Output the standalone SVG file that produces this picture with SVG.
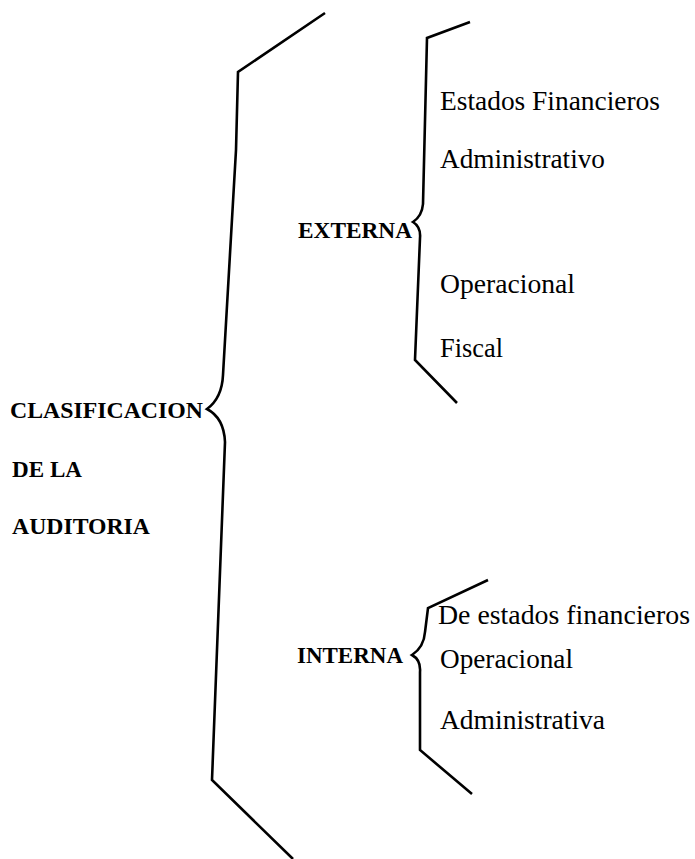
<svg xmlns="http://www.w3.org/2000/svg" width="695" height="859" viewBox="0 0 695 859">
<style>
.br{fill:none;stroke:#000;stroke-width:2.6;stroke-linejoin:miter;stroke-linecap:butt}
.t{font-family:"Liberation Serif","Times New Roman",serif;font-size:27px;fill:#000}
.b{font-family:"Liberation Serif","Times New Roman",serif;font-size:23px;font-weight:bold;fill:#000}
</style>
<rect width="695" height="859" fill="#fff"/>
<g id="connectors">
<path class="br" d="M325,13 L238,72 L236,150 L223,375 Q222,398 207,409 Q224,418 225,442 L212,780 L293,859"/>
<path class="br" d="M470,22 L427,38 L423,204 Q422,216 413,222 Q421,227 420,238 L415,360 L457,403"/>
<path class="br" d="M488,580 L428,608 L425,632 Q424,647 412,655 Q421,660 420,672 L420,750 L472,794"/>
</g>
<g id="root"><text class="b" x="10" y="418" textLength="193" lengthAdjust="spacingAndGlyphs">CLASIFICACION</text><text class="b" x="12" y="477" textLength="70" lengthAdjust="spacingAndGlyphs">DE LA</text><text class="b" x="12" y="534" textLength="138" lengthAdjust="spacingAndGlyphs">AUDITORIA</text></g>
<g id="externa"><text class="b" x="298" y="238" font-size="21" textLength="114" lengthAdjust="spacingAndGlyphs">EXTERNA</text></g>
<g id="interna"><text class="b" x="297" y="663" font-size="21" textLength="106" lengthAdjust="spacingAndGlyphs">INTERNA</text></g>
<g id="ext-1"><text class="t" x="440" y="110" textLength="220" lengthAdjust="spacingAndGlyphs">Estados Financieros</text></g>
<g id="ext-2"><text class="t" x="440" y="168" textLength="165" lengthAdjust="spacingAndGlyphs">Administrativo</text></g>
<g id="ext-3"><text class="t" x="440" y="293" textLength="135" lengthAdjust="spacingAndGlyphs">Operacional</text></g>
<g id="ext-4"><text class="t" x="440" y="357" textLength="63" lengthAdjust="spacingAndGlyphs">Fiscal</text></g>
<g id="int-1"><text class="t" x="438" y="624" textLength="252" lengthAdjust="spacingAndGlyphs">De estados financieros</text></g>
<g id="int-2"><text class="t" x="440" y="668" textLength="133" lengthAdjust="spacingAndGlyphs">Operacional</text></g>
<g id="int-3"><text class="t" x="440" y="729" textLength="165" lengthAdjust="spacingAndGlyphs">Administrativa</text></g>
</svg>
